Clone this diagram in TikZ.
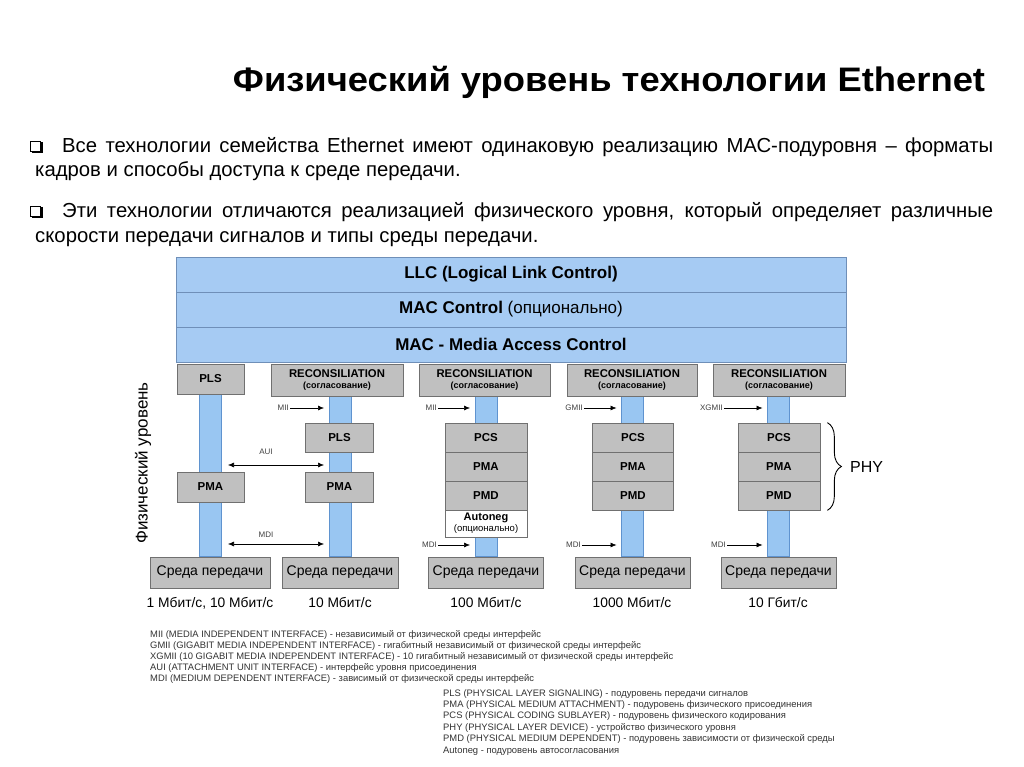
\documentclass[tikz,border=0pt]{standalone}
\usepackage{fontspec}
\setmainfont{Liberation Sans}
\usetikzlibrary{arrows.meta,backgrounds,calc,decorations.pathreplacing}
\definecolor{bluefill}{HTML}{A6CBF3}
\definecolor{blueborder}{HTML}{6F8FB8}
\definecolor{barfill}{HTML}{99C6F2}
\definecolor{barborder}{HTML}{5F93CF}
\definecolor{grayfill}{HTML}{C0C0C0}
\definecolor{grayborder}{HTML}{707070}
\newcommand{\fsz}[1]{\fontsize{#1}{#1}\selectfont}
\begin{document}
\begin{tikzpicture}[x=1pt,y=-1pt,
  bluerow/.style={draw=blueborder, fill=bluefill, minimum width=670, minimum height=35, inner sep=0, font=\bfseries\fsz{17}},
  gbox/.style={draw=grayborder, fill=grayfill, inner sep=0, line width=0.7},
  smallbox/.style={gbox, font=\bfseries\fsz{11.5}},
  recbox/.style={gbox, minimum height=32, align=center},
  medbox/.style={gbox, minimum height=31, font=\fsz{14}},
  lbl/.style={inner sep=0, font=\fsz{8}, text=black!75},
  arr/.style={-{Latex[length=6,width=5]}, line width=0.6, shorten >=5},
  darr/.style={{Latex[length=6,width=5]}-{Latex[length=6,width=5]}, line width=0.6},
  bar/.style={fill=barfill, draw=barborder, line width=0.6},
  speed/.style={inner sep=0, font=\fsz{13.8}},
  bullet/.style={anchor=base west, inner sep=0, font=\fsz{20.3}},
  legend/.style={inner sep=0, anchor=base west, font=\fsz{9.4}, text=black!80},
]
\useasboundingbox (0,0) rectangle (1024,767);

% title
\node[anchor=base, inner sep=0] (title) at (609,92)
  {\resizebox{752pt}{\height}{\bfseries\fsz{34}Физический уровень технологии Ethernet}};

% bullets
\foreach \yy in {141,206}{
  \draw[line width=0.8] (30.5,\yy) rectangle (40.5,\yy+10);
  \fill (40.5,\yy+1.5) rectangle (42.5,\yy+12);
  \fill (32,\yy+10) rectangle (42.5,\yy+12);
}
\node[bullet] (b1a) at (62,153)
  {\makebox[931pt][s]{Все технологии семейства Ethernet имеют одинаковую реализацию МАС-подуровня – форматы}};
\node[bullet] (b1b) at (35,177)
  {кадров и способы доступа к среде передачи.};
\node[bullet] (b2a) at (62,218)
  {\makebox[931pt][s]{Эти технологии отличаются реализацией физического уровня, который определяет различные}};
\node[bullet] (b2b) at (35,242)
  {скорости передачи сигналов и типы среды передачи.};

% top stack
\node[bluerow] (llc) at (511,274.5) {LLC (Logical Link Control)};
\node[bluerow] (macc) at (511,309.5) {MAC Control \mdseries(опционально)};
\node[bluerow] (mac) at (511,344.5) {MAC - Media Access Control};

% column 1
\node[smallbox, minimum width=67, minimum height=30] (pls1) at (210.5,379) {PLS};
\node[smallbox, minimum width=67, minimum height=30] (pma1) at (210.5,487) {PMA};
\node[medbox, minimum width=120] (med1) at (210,572.5) {Среда передачи};

% column 2..5 reconciliation
\foreach \n/\x/\w in {rec2/337/132, rec3/484.5/131, rec4/632/130, rec5/779/132}{
  \node[recbox, minimum width=\w] (\n) at (\x,380)
   {\bfseries\fsz{11.3}RECONSILIATION\\[-1pt]\bfseries\fsz{9}(согласование)};
}

% column 2
\node[smallbox, minimum width=68, minimum height=29] (pls2) at (339.5,437.5) {PLS};
\node[smallbox, minimum width=68, minimum height=30] (pma2) at (339.5,487) {PMA};
\node[medbox, minimum width=116] (med2) at (340,572.5) {Среда передачи};

% column 3
\node[smallbox, minimum width=82, minimum height=29] (pcs3) at (486,437.5) {PCS};
\node[smallbox, minimum width=82, minimum height=29] (pma3) at (486,466.5) {PMA};
\node[smallbox, minimum width=82, minimum height=29] (pmd3) at (486,495.5) {PMD};
\node[draw=grayborder, fill=white, line width=0.7, inner sep=0, minimum width=82, minimum height=27, align=center] (auto3) at (486,523.5)
  {\bfseries\fsz{11}Autoneg\\[-1pt]\fsz{9.5}(опционально)};
\node[medbox, minimum width=115] (med3) at (486,572.5) {Среда передачи};

% column 4
\node[smallbox, minimum width=81, minimum height=29] (pcs4) at (633,437.5) {PCS};
\node[smallbox, minimum width=81, minimum height=29] (pma4) at (633,466.5) {PMA};
\node[smallbox, minimum width=81, minimum height=29] (pmd4) at (633,495.5) {PMD};
\node[medbox, minimum width=115] (med4) at (632.5,572.5) {Среда передачи};

% column 5
\node[smallbox, minimum width=82, minimum height=29] (pcs5) at (779,437.5) {PCS};
\node[smallbox, minimum width=82, minimum height=29] (pma5) at (779,466.5) {PMA};
\node[smallbox, minimum width=82, minimum height=29] (pmd5) at (779,495.5) {PMD};
\node[medbox, minimum width=115] (med5) at (778.5,572.5) {Среда передачи};

% background and bars
\begin{scope}[on background layer]
\fill[white] (0,0) rectangle (1024,767);
\foreach \t/\b/\k in {pls1/med1/1, rec2/med2/2, rec3/med3/3, rec4/med4/4, rec5/med5/5}{
  \path ($(\b.north)+(-11,0)$) coordinate (bl\k) ($(\b.north)+(11,0)$) coordinate (br\k);
  \draw[bar] (bl\k |- \t.south) rectangle (br\k);
}
\end{scope}

% interface labels
\node[lbl, anchor=east] (mii2) at (289,408) {MII};
\draw[arr] (mii2.east) ++(1,0) coordinate (mii2s) (mii2s) -- (mii2s -| bl2);
\node[lbl, anchor=east] (mii3) at (437,408) {MII};
\draw[arr] (mii3.east) ++(1,0) coordinate (mii3s) (mii3s) -- (mii3s -| bl3);
\node[lbl, anchor=east] (gmii4) at (583,408) {GMII};
\draw[arr] (gmii4.east) ++(1,0) coordinate (gmii4s) (gmii4s) -- (gmii4s -| bl4);
\node[lbl, anchor=east] (xgmii5) at (723,408) {XGMII};
\draw[arr] (xgmii5.east) ++(1,0) coordinate (xgmii5s) (xgmii5s) -- (xgmii5s -| bl5);

\node[lbl] (aui) at (266,452) {AUI};
\coordinate (auia) at ($(br1)+(7,0)$);
\coordinate (auib) at ($(bl2)+(-5,0)$);
\draw[darr] (auia |- 0,465) -- (auib |- 0,465);

\node[lbl] (mdi12) at (266,535) {MDI};
\draw[darr] (auia |- 0,544) -- (auib |- 0,544);

\node[lbl, anchor=east] (mdi3) at (437,545) {MDI};
\draw[arr] (mdi3.east) ++(1,0) coordinate (mdi3s) (mdi3s) -- (mdi3s -| bl3);
\node[lbl, anchor=east] (mdi4) at (581,545) {MDI};
\draw[arr] (mdi4.east) ++(1,0) coordinate (mdi4s) (mdi4s) -- (mdi4s -| bl4);
\node[lbl, anchor=east] (mdi5) at (726,545) {MDI};
\draw[arr] (mdi5.east) ++(1,0) coordinate (mdi5s) (mdi5s) -- (mdi5s -| bl5);

% speeds
\node[speed] (s1) at (210,603) {1 Мбит/с, 10 Мбит/с};
\node[speed] (s2) at (340,603) {10 Мбит/с};
\node[speed] (s3) at (486,603) {100 Мбит/с};
\node[speed] (s4) at (632,603) {1000 Мбит/с};
\node[speed] (s5) at (778,603) {10 Гбит/с};

% vertical label
\node[rotate=90, inner sep=0, font=\fsz{17}] (phys) at (143,463) {Физический уровень};

% PHY brace
\coordinate (brt) at ($(pcs5.north east)+(7,0)$);
\coordinate (brb) at ($(pmd5.south east)+(7,0)$);
\draw[line width=0.9, decorate, decoration={brace, amplitude=14}] (brt) -- (brb);
\node[anchor=west, inner sep=0, font=\fsz{16}] (phy) at (850,466.5) {PHY};

% legends
\foreach \t [count=\i from 0] in {
 {MII (MEDIA INDEPENDENT INTERFACE) - независимый от физической среды интерфейс},
 {GMII (GIGABIT MEDIA INDEPENDENT INTERFACE) - гигабитный независимый от физической среды интерфейс},
 {XGMII (10 GIGABIT MEDIA INDEPENDENT INTERFACE) - 10 гигабитный независимый от физической среды интерфейс},
 {AUI (ATTACHMENT UNIT INTERFACE) - интерфейс уровня присоединения},
 {MDI (MEDIUM DEPENDENT INTERFACE) - зависимый от физической среды интерфейс}}{
  \node[legend] (legl\i) at (150,637+11*\i) {\t};
}
\foreach \t [count=\i from 0] in {
 {PLS (PHYSICAL LAYER SIGNALING) - подуровень передачи сигналов},
 {PMA (PHYSICAL MEDIUM ATTACHMENT) - подуровень физического присоединения},
 {PCS (PHYSICAL CODING SUBLAYER) - подуровень физического кодирования},
 {PHY (PHYSICAL LAYER DEVICE) - устройство физического уровня},
 {PMD (PHYSICAL MEDIUM DEPENDENT) - подуровень зависимости от физической среды},
 {Autoneg - подуровень автосогласования}}{
  \node[legend] (legr\i) at (443,696+11.4*\i) {\t};
}
\end{tikzpicture}
\end{document}
